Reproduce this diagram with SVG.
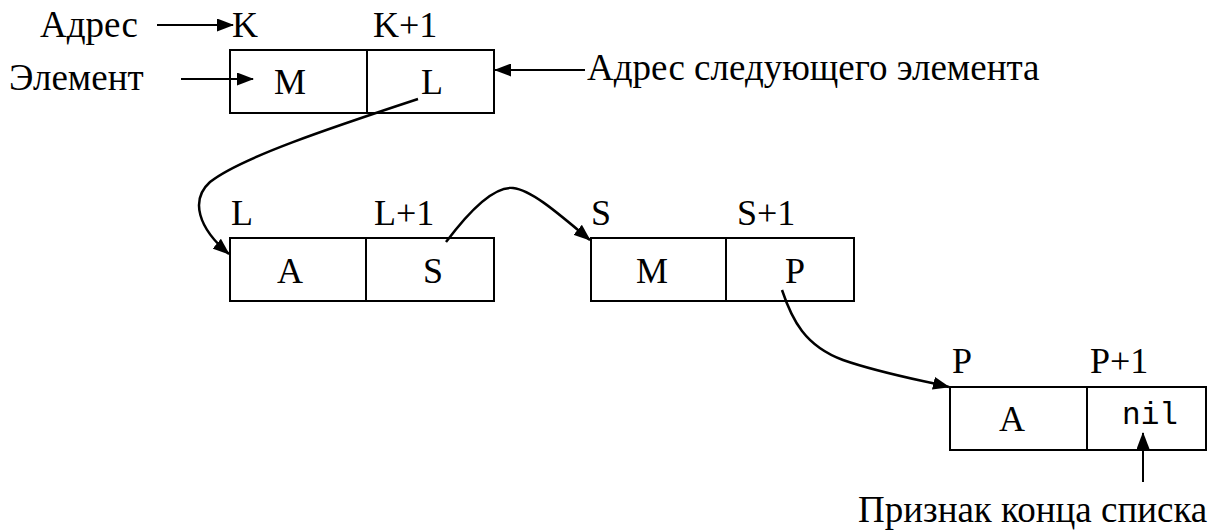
<svg xmlns="http://www.w3.org/2000/svg" width="1224" height="531" viewBox="0 0 1224 531">
<style>
.box{fill:#fff;stroke:#000;stroke-width:2}
.ln{fill:none;stroke:#000;stroke-width:2}
.cv{fill:none;stroke:#000;stroke-width:2.5;marker-end:url(#ah)}
</style>
<defs>
<marker id="ah" markerWidth="17" markerHeight="13" refX="16" refY="6.5" orient="auto" markerUnits="userSpaceOnUse">
<path d="M0,0 L17,6.5 L0,13 Z" fill="#000"/>
</marker>
</defs>
<rect width="1224" height="531" fill="#fff"/>
<g id="labels" font-family="Liberation Serif" font-size="37" fill="#000">
<text x="40" y="37">Адрес</text>
<text x="9" y="90">Элемент</text>
<text x="587" y="80">Адрес следующего элемента</text>
<text x="858" y="522">Признак конца списка</text>
</g>
<g id="node-K" font-family="Liberation Serif" font-size="36" fill="#000">
<text x="232" y="37">K</text>
<text x="373" y="37">K+1</text>
<rect class="box" x="230" y="50" width="264" height="63"/>
<line class="ln" x1="367" y1="50" x2="367" y2="113"/>
<text text-anchor="middle" x="290" y="94">M</text>
<text text-anchor="middle" x="432" y="94">L</text>
</g>
<g id="node-L" font-family="Liberation Serif" font-size="36" fill="#000">
<text x="231" y="225">L</text>
<text x="374" y="225">L+1</text>
<rect class="box" x="230" y="238" width="264" height="63"/>
<line class="ln" x1="366" y1="238" x2="366" y2="301"/>
<text text-anchor="middle" x="290" y="283">A</text>
<text text-anchor="middle" x="433" y="283">S</text>
</g>
<g id="node-S" font-family="Liberation Serif" font-size="36" fill="#000">
<text x="591" y="225">S</text>
<text x="737" y="225">S+1</text>
<rect class="box" x="591" y="238" width="263" height="63"/>
<line class="ln" x1="726" y1="238" x2="726" y2="301"/>
<text text-anchor="middle" x="652" y="283">M</text>
<text text-anchor="middle" x="795" y="283">P</text>
</g>
<g id="node-P" font-family="Liberation Serif" font-size="36" fill="#000">
<text x="952" y="373">P</text>
<text x="1090" y="373">P+1</text>
<rect class="box" x="950" y="387" width="256" height="63"/>
<line class="ln" x1="1087" y1="387" x2="1087" y2="450"/>
<text text-anchor="middle" x="1012" y="431">A</text>
<text text-anchor="middle" x="1150" y="424" font-family="Liberation Mono" font-size="31">nil</text>
</g>
<g id="connectors">
<line class="ln" x1="157" y1="25" x2="233" y2="25" marker-end="url(#ah)"/>
<line class="ln" x1="181" y1="79" x2="253" y2="79" marker-end="url(#ah)"/>
<line class="ln" x1="585" y1="70" x2="495" y2="70" marker-end="url(#ah)"/>
<line class="ln" x1="1143" y1="482" x2="1143" y2="433" marker-end="url(#ah)"/>
<path class="cv" d="M418 99 C330 128 240 158 210 182 C190 200 198 228 229 254"/>
<path class="cv" d="M446 242 C470 210 495 186 513 188 C532 190 560 215 590 240"/>
<path class="cv" d="M782 290 C792 320 805 346 843 360 C880 373 920 380 949 387"/>
</g>
</svg>
